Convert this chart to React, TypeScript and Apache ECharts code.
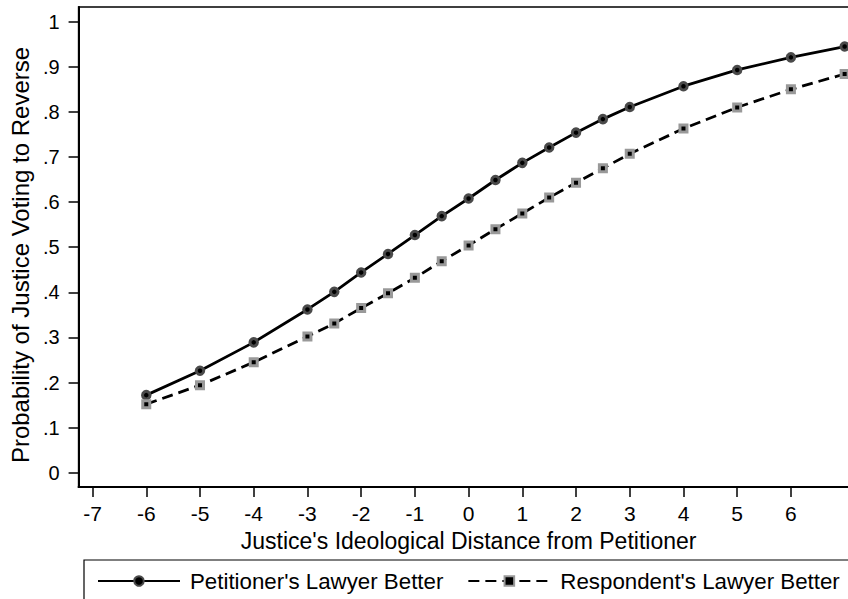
import React, { useEffect, useRef } from "react";
import * as echarts from "echarts";

const xValues = [-6, -5, -4, -3, -2.5, -2, -1.5, -1, -0.5, 0, 0.5, 1, 1.5, 2, 2.5, 3, 4, 5, 6, 7];
const petitionerBetter = [0.172, 0.226, 0.289, 0.362, 0.401, 0.444, 0.485, 0.527, 0.569, 0.608, 0.649, 0.687, 0.721, 0.754, 0.784, 0.811, 0.857, 0.893, 0.921, 0.945];
const respondentBetter = [0.152, 0.194, 0.245, 0.302, 0.331, 0.365, 0.398, 0.432, 0.469, 0.504, 0.540, 0.575, 0.610, 0.643, 0.675, 0.707, 0.763, 0.810, 0.850, 0.884];
const xTickValues = [-7, -6, -5, -4, -3, -2, -1, 0, 1, 2, 3, 4, 5, 6];
const yTickValues = [0, 0.1, 0.2, 0.3, 0.4, 0.5, 0.6, 0.7, 0.8, 0.9, 1];
const seriesNames = ["Petitioner's Lawyer Better", "Respondent's Lawyer Better"];

const FONT = "'Liberation Sans', Arial, Helvetica, sans-serif";

export default function App() {
  const ref = useRef<HTMLDivElement>(null);
  useEffect(() => {
    if (!ref.current) return;
    const chart = echarts.init(ref.current, null, { renderer: "svg" });
    const yFmt = (v: number) => {
      const k = Math.round(v * 10);
      if (k === 0) return "0";
      if (k === 10) return "1";
      return "." + k;
    };
    chart.setOption({
      animation: false,
      backgroundColor: "#fff",
      textStyle: { fontFamily: FONT, color: "#000" },
      grid: {
        left: 77,
        top: 7,
        right: 870 - 858.6,
        bottom: 112,
        show: true,
        borderColor: "#000",
        borderWidth: 1.5,
        containLabel: false,
      },
      xAxis: {
        type: "value",
        min: -7.26,
        max: 7.26,
        name: "Justice's Ideological Distance from Petitioner",
        nameLocation: "middle",
        nameGap: 42,
        nameTextStyle: { fontSize: 23, color: "#000", fontFamily: FONT },
        axisLine: { show: true, onZero: false, lineStyle: { color: "#000", width: 2 } },
        axisTick: { show: true, length: 10, lineStyle: { color: "#000", width: 1.5 }, customValues: xTickValues },
        axisLabel: { fontSize: 21, color: "#000", margin: 16, fontFamily: FONT, customValues: xTickValues },
        splitLine: { show: false },
      },
      yAxis: {
        type: "value",
        min: -0.0317,
        max: 1.0326,
        name: "Probability of Justice Voting to Reverse",
        nameLocation: "middle",
        nameGap: 44,
        nameTextStyle: { fontSize: 24, color: "#000", fontFamily: FONT, padding: [0, 16, 0, 0] },
        axisLine: { show: true, onZero: false, lineStyle: { color: "#000", width: 2 } },
        axisTick: { show: true, length: 10, lineStyle: { color: "#000", width: 1.5 }, customValues: yTickValues },
        axisLabel: { fontSize: 20, color: "#000", margin: 19, fontFamily: FONT, customValues: yTickValues, formatter: yFmt },
        splitLine: { show: false },
      },
      legend: {
        data: seriesNames,
        left: 92,
        top: 565,
        itemWidth: 82,
        itemHeight: 12,
        itemGap: 24,
        textStyle: { fontSize: 22.3, color: "#000", fontFamily: FONT, padding: [0, 0, 0, 5] },
      },
      graphic: [
        {
          type: "rect",
          shape: { x: 84, y: 560, width: 800, height: 60 },
          style: { fill: "none", stroke: "#000", lineWidth: 1.2 },
          silent: true,
        },
      ],
      series: [
        {
          name: seriesNames[0],
          type: "line",
          data: xValues.map((x, i) => [x, petitionerBetter[i]]),
          symbol: "circle",
          symbolSize: 7.5,
          showAllSymbol: true,
          lineStyle: { color: "#000", width: 2.8, type: "solid" },
          itemStyle: { color: "#000", borderColor: "#4a4a4a", borderWidth: 3 },
        },
        {
          name: seriesNames[1],
          type: "line",
          data: xValues.map((x, i) => [x, respondentBetter[i]]),
          symbol: "rect",
          symbolSize: 7,
          showAllSymbol: true,
          lineStyle: { color: "#000", width: 2.8, type: [11, 6] },
          itemStyle: { color: "#000", borderColor: "#999", borderWidth: 3 },
        },
      ],
    });
    return () => chart.dispose();
  }, []);
  return (
    <div style={{ position: "fixed", left: 0, top: 0, width: 848, height: 599, overflow: "hidden", background: "#fff" }}>
      <div ref={ref} style={{ width: 870, height: 599 }} />
    </div>
  );
}
